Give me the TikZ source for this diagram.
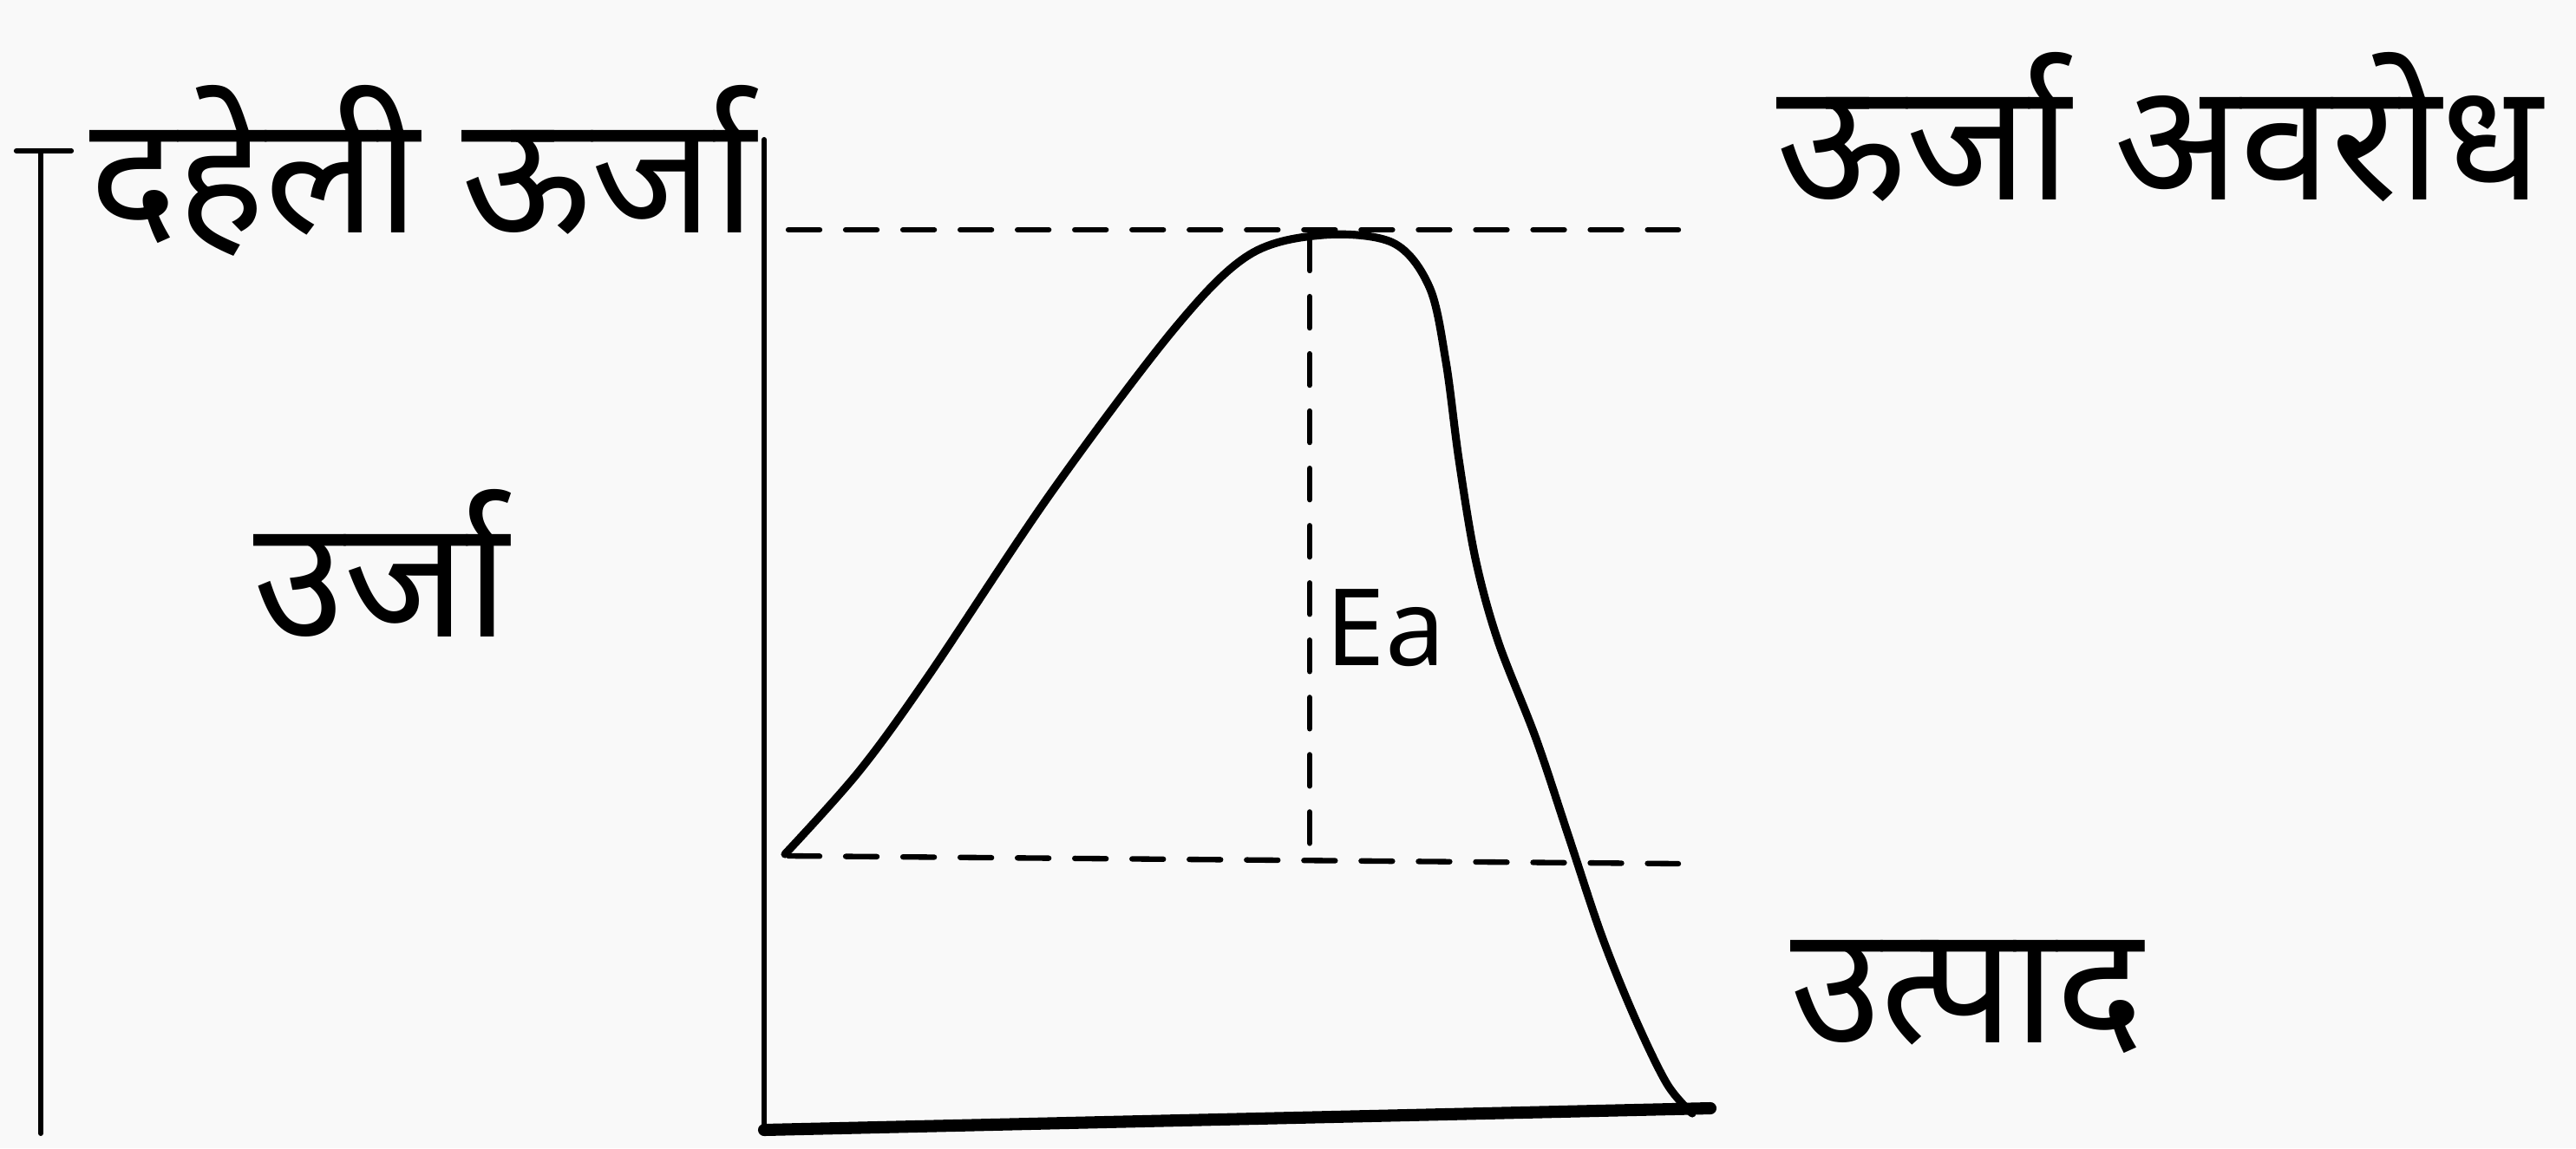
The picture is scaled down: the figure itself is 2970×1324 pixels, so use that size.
\documentclass[tikz,border=0pt]{standalone}
\usepackage{fontspec}
\setmainfont{Noto Sans}
\newfontfamily\deva[Script=Devanagari]{Noto Sans}
\begin{document}
\begin{tikzpicture}[x=0.01cm,y=-0.01cm,
  ink/.style={black,line cap=round,line join=round},
  axisline/.style={ink,line width=1.7pt},
  baseaxis/.style={ink,line width=4pt},
  curveline/.style={ink,line width=2.6pt},
  guide/.style={ink,line width=1.8pt,dash pattern=on 0.36cm off 0.3cm},
  devlabel/.style={font=\deva\fontsize{54}{60}\selectfont,inner sep=0pt,anchor=base},
  latlabel/.style={font=\fontsize{35}{40}\selectfont,inner sep=0pt,anchor=base west}]
\fill[white!95!gray] (0,0) rectangle (2970,1324);
\useasboundingbox (0,0) rectangle (2970,1324);
% labels
\node[devlabel] (dehli) at (488,268) {दहेली ऊर्जा};
\node[devlabel] (barrier) at (2490,230) {ऊर्जा अवरोध};
\node[devlabel] (urja) at (440,734) {उर्जा};
\node[devlabel] (utpad) at (2268,1202) {उत्पाद};
\node[latlabel] (ea) at (1528,767) {Ea};
% left energy scale line
\coordinate (lt) at (47,174);
\coordinate (lb) at (47,1307);
\draw[axisline] (lt) -- (lb);
\draw[axisline] ([xshift=-8]lt) -- ([xshift=10]lt);
% axes
\coordinate (ytop) at (881,161);
\coordinate (origin) at (881,1303);
\coordinate (xend) at (1972,1278);
\draw[axisline] (ytop) -- (origin);
\draw[baseaxis] (origin) -- (xend);
% guides
\coordinate (tl) at (909,265);
\coordinate (tr) at (1935,265);
\coordinate (bl) at (909,987);
\coordinate (br) at (1935,996);
\coordinate (peakfoot) at (1510,990);
\coordinate (peakv) at (1510,276);
\draw[guide] (tl) -- (tr);
\draw[guide] (bl) -- (br);
\draw[guide] (peakv) -- (peakfoot);
% energy curve
\draw[curveline] plot[smooth,tension=0.55] coordinates {
 (905,985) (990,890) (1070,780) (1212,568) (1354,379) (1440,294) (1525,271)
 (1606,280) (1648,331) (1667,417) (1682,530) (1701,644) (1727,739)
 (1771,852) (1809,966) (1847,1080) (1885,1174) (1922,1250) (1951,1284)};
\end{tikzpicture}
\end{document}
